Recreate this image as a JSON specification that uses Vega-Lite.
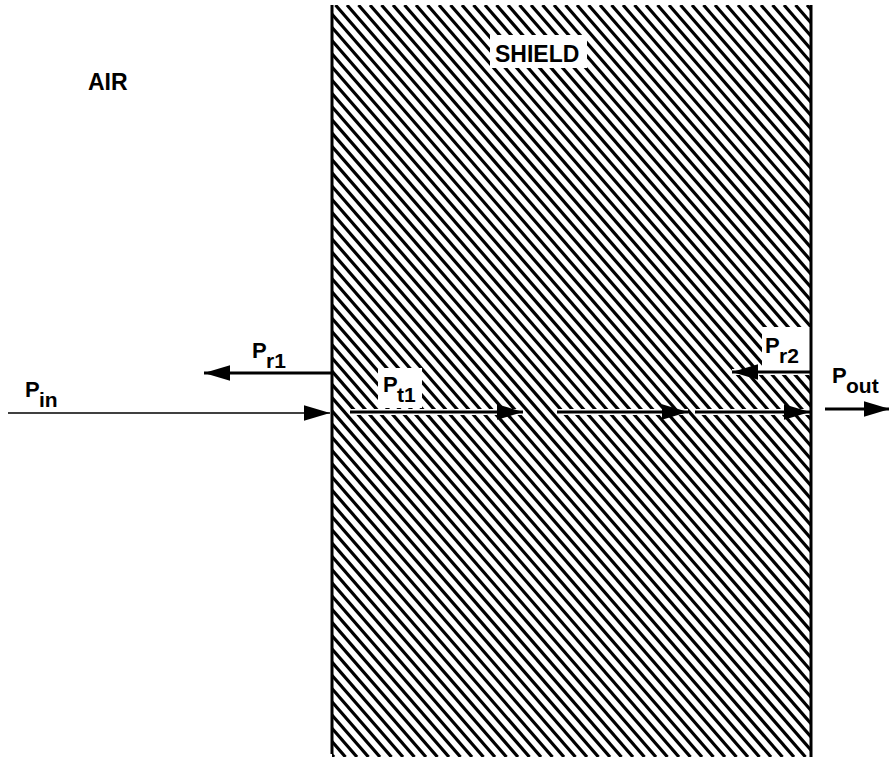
{
  "$schema": "https://vega.github.io/schema/vega-lite/v6.json",
  "width": 889,
  "height": 757,
  "autosize": {"type": "fit", "contains": "padding"},
  "padding": 0,
  "background": "white",
  "config": {"view": {"stroke": null}, "axis": {"disable": true}},
  "datasets": {
    "hatch": [
      {"top": -320, "bottom": 334}, {"top": -308.5, "bottom": 345.5}, {"top": -297, "bottom": 357}, {"top": -285.5, "bottom": 368.5},
      {"top": -274, "bottom": 380}, {"top": -262.5, "bottom": 391.5}, {"top": -251, "bottom": 403}, {"top": -239.5, "bottom": 414.5},
      {"top": -228, "bottom": 426}, {"top": -216.5, "bottom": 437.5}, {"top": -205, "bottom": 449}, {"top": -193.5, "bottom": 460.5},
      {"top": -182, "bottom": 472}, {"top": -170.5, "bottom": 483.5}, {"top": -159, "bottom": 495}, {"top": -147.5, "bottom": 506.5},
      {"top": -136, "bottom": 518}, {"top": -124.5, "bottom": 529.5}, {"top": -113, "bottom": 541}, {"top": -101.5, "bottom": 552.5},
      {"top": -90, "bottom": 564}, {"top": -78.5, "bottom": 575.5}, {"top": -67, "bottom": 587}, {"top": -55.5, "bottom": 598.5},
      {"top": -44, "bottom": 610}, {"top": -32.5, "bottom": 621.5}, {"top": -21, "bottom": 633}, {"top": -9.5, "bottom": 644.5},
      {"top": 2, "bottom": 656}, {"top": 13.5, "bottom": 667.5}, {"top": 25, "bottom": 679}, {"top": 36.5, "bottom": 690.5},
      {"top": 48, "bottom": 702}, {"top": 59.5, "bottom": 713.5}, {"top": 71, "bottom": 725}, {"top": 82.5, "bottom": 736.5},
      {"top": 94, "bottom": 748}, {"top": 105.5, "bottom": 759.5}, {"top": 117, "bottom": 771}, {"top": 128.5, "bottom": 782.5},
      {"top": 140, "bottom": 794}, {"top": 151.5, "bottom": 805.5}, {"top": 163, "bottom": 817}, {"top": 174.5, "bottom": 828.5},
      {"top": 186, "bottom": 840}, {"top": 197.5, "bottom": 851.5}, {"top": 209, "bottom": 863}, {"top": 220.5, "bottom": 874.5},
      {"top": 232, "bottom": 886}, {"top": 243.5, "bottom": 897.5}, {"top": 255, "bottom": 909}, {"top": 266.5, "bottom": 920.5},
      {"top": 278, "bottom": 932}, {"top": 289.5, "bottom": 943.5}, {"top": 301, "bottom": 955}, {"top": 312.5, "bottom": 966.5},
      {"top": 324, "bottom": 978}, {"top": 335.5, "bottom": 989.5}, {"top": 347, "bottom": 1001}, {"top": 358.5, "bottom": 1012.5},
      {"top": 370, "bottom": 1024}, {"top": 381.5, "bottom": 1035.5}, {"top": 393, "bottom": 1047}, {"top": 404.5, "bottom": 1058.5},
      {"top": 416, "bottom": 1070}, {"top": 427.5, "bottom": 1081.5}, {"top": 439, "bottom": 1093}, {"top": 450.5, "bottom": 1104.5},
      {"top": 462, "bottom": 1116}, {"top": 473.5, "bottom": 1127.5}, {"top": 485, "bottom": 1139}, {"top": 496.5, "bottom": 1150.5},
      {"top": 508, "bottom": 1162}, {"top": 519.5, "bottom": 1173.5}, {"top": 531, "bottom": 1185}, {"top": 542.5, "bottom": 1196.5},
      {"top": 554, "bottom": 1208}, {"top": 565.5, "bottom": 1219.5}, {"top": 577, "bottom": 1231}, {"top": 588.5, "bottom": 1242.5},
      {"top": 600, "bottom": 1254}, {"top": 611.5, "bottom": 1265.5}, {"top": 623, "bottom": 1277}, {"top": 634.5, "bottom": 1288.5},
      {"top": 646, "bottom": 1300}, {"top": 657.5, "bottom": 1311.5}, {"top": 669, "bottom": 1323}, {"top": 680.5, "bottom": 1334.5},
      {"top": 692, "bottom": 1346}, {"top": 703.5, "bottom": 1357.5}, {"top": 715, "bottom": 1369}, {"top": 726.5, "bottom": 1380.5},
      {"top": 738, "bottom": 1392}, {"top": 749.5, "bottom": 1403.5}, {"top": 761, "bottom": 1415}, {"top": 772.5, "bottom": 1426.5},
      {"top": 784, "bottom": 1438}, {"top": 795.5, "bottom": 1449.5}, {"top": 807, "bottom": 1461}
    ],
    "blank": [
      {"region": "air", "x": 0, "x2": 332, "y": 0, "y2": 757},
      {"region": "outside", "x": 811, "x2": 889, "y": 0, "y2": 757},
      {"region": "top", "x": 332, "x2": 811, "y": 0, "y2": 5},
      {"region": "SHIELD", "x": 490, "x2": 587, "y": 35, "y2": 68},
      {"region": "Pt1", "x": 378, "x2": 422, "y": 368, "y2": 408},
      {"region": "Pr2", "x": 762, "x2": 810, "y": 327, "y2": 370}
    ],
    "walls": [
      {"side": "left", "x": 332, "y": 5, "y2": 754},
      {"side": "right", "x": 811, "y": 5, "y2": 757}
    ],
    "arrows": [
      {"arrow": "Pin", "from": 8, "to": 330, "y": 413, "kind": "thin", "dir": "right"},
      {"arrow": "Pr1", "from": 332, "to": 204, "y": 373, "kind": "thick", "dir": "left"},
      {"arrow": "Pt1a", "from": 350, "to": 523, "y": 412, "kind": "thick", "dir": "right"},
      {"arrow": "Pt1b", "from": 557, "to": 688, "y": 412, "kind": "thick", "dir": "right"},
      {"arrow": "Pt1c", "from": 695, "to": 810, "y": 412, "kind": "thick", "dir": "right"},
      {"arrow": "Pr2", "from": 810, "to": 732, "y": 372, "kind": "thick", "dir": "left"},
      {"arrow": "Pout", "from": 825, "to": 890, "y": 409, "kind": "thick", "dir": "right"}
    ],
    "titles": [
      {"text": "AIR", "x": 88, "y": 90},
      {"text": "SHIELD", "x": 495, "y": 62}
    ],
    "powers": [
      {"main": "P", "sub": "in", "x": 25, "y": 397},
      {"main": "P", "sub": "r1", "x": 252, "y": 358},
      {"main": "P", "sub": "t1", "x": 383, "y": 392},
      {"main": "P", "sub": "r2", "x": 765, "y": 353},
      {"main": "P", "sub": "out", "x": 832, "y": 383}
    ]
  },
  "layer": [
    {
      "data": {"name": "hatch"},
      "mark": {"type": "rule", "clip": true, "color": "black", "strokeWidth": 3.2},
      "encoding": {
        "x": {"field": "top", "type": "quantitative", "scale": {"domain": [0, 889], "nice": false, "zero": false}},
        "x2": {"field": "bottom"},
        "y": {"datum": 5, "type": "quantitative", "scale": {"domain": [0, 757], "nice": false, "zero": false, "reverse": true}},
        "y2": {"datum": 757}
      }
    },
    {
      "data": {"name": "blank"},
      "mark": {"type": "rect", "color": "white", "clip": true},
      "encoding": {
        "x": {"field": "x", "type": "quantitative", "scale": {"domain": [0, 889], "nice": false, "zero": false}},
        "x2": {"field": "x2"},
        "y": {"field": "y", "type": "quantitative", "scale": {"domain": [0, 757], "nice": false, "zero": false, "reverse": true}},
        "y2": {"field": "y2"}
      }
    },
    {
      "data": {"name": "arrows"},
      "mark": {"type": "rule", "color": "white", "strokeWidth": 6, "clip": true},
      "encoding": {
        "x": {"field": "from", "type": "quantitative", "scale": {"domain": [0, 889], "nice": false, "zero": false}},
        "x2": {"field": "to"},
        "y": {"field": "y", "type": "quantitative", "scale": {"domain": [0, 757], "nice": false, "zero": false, "reverse": true}}
      }
    },
    {
      "data": {"name": "walls"},
      "mark": {"type": "rule", "color": "black", "strokeWidth": 3, "clip": true},
      "encoding": {
        "x": {"field": "x", "type": "quantitative", "scale": {"domain": [0, 889], "nice": false, "zero": false}},
        "y": {"field": "y", "type": "quantitative", "scale": {"domain": [0, 757], "nice": false, "zero": false, "reverse": true}},
        "y2": {"field": "y2"}
      }
    },
    {
      "data": {"name": "arrows"},
      "mark": {"type": "rule", "color": "black", "clip": true},
      "encoding": {
        "x": {"field": "from", "type": "quantitative", "scale": {"domain": [0, 889], "nice": false, "zero": false}},
        "x2": {"field": "to"},
        "y": {"field": "y", "type": "quantitative", "scale": {"domain": [0, 757], "nice": false, "zero": false, "reverse": true}},
        "strokeWidth": {"field": "kind", "type": "nominal", "scale": {"domain": ["thin", "thick"], "range": [1.6, 2.8]}, "legend": null}
      }
    },
    {
      "data": {"name": "arrows"},
      "mark": {"type": "point", "filled": true, "opacity": 1, "color": "black", "size": 676, "strokeWidth": 0, "clip": true},
      "encoding": {
        "x": {"field": "to", "type": "quantitative", "scale": {"domain": [0, 889], "nice": false, "zero": false}},
        "y": {"field": "y", "type": "quantitative", "scale": {"domain": [0, 757], "nice": false, "zero": false, "reverse": true}},
        "shape": {"field": "dir", "type": "nominal", "scale": {"domain": ["right", "left"], "range": ["M-2,-0.6L0,0L-2,0.6Z", "M2,-0.6L0,0L2,0.6Z"]}, "legend": null}
      }
    },
    {
      "data": {"name": "titles"},
      "mark": {"type": "text", "align": "left", "baseline": "alphabetic", "font": "Liberation Sans", "fontWeight": "bold", "fontSize": 23, "color": "black"},
      "encoding": {
        "x": {"field": "x", "type": "quantitative", "scale": {"domain": [0, 889], "nice": false, "zero": false}},
        "y": {"field": "y", "type": "quantitative", "scale": {"domain": [0, 757], "nice": false, "zero": false, "reverse": true}},
        "text": {"field": "text"}
      }
    },
    {
      "data": {"name": "powers"},
      "mark": {"type": "text", "align": "left", "baseline": "alphabetic", "font": "Liberation Sans", "fontWeight": "bold", "fontSize": 22, "color": "black"},
      "encoding": {
        "x": {"field": "x", "type": "quantitative", "scale": {"domain": [0, 889], "nice": false, "zero": false}},
        "y": {"field": "y", "type": "quantitative", "scale": {"domain": [0, 757], "nice": false, "zero": false, "reverse": true}},
        "text": {"field": "main"}
      }
    },
    {
      "data": {"name": "powers"},
      "mark": {"type": "text", "align": "left", "baseline": "alphabetic", "font": "Liberation Sans", "fontWeight": "bold", "fontSize": 21, "dx": 14, "dy": 10, "color": "black"},
      "encoding": {
        "x": {"field": "x", "type": "quantitative", "scale": {"domain": [0, 889], "nice": false, "zero": false}},
        "y": {"field": "y", "type": "quantitative", "scale": {"domain": [0, 757], "nice": false, "zero": false, "reverse": true}},
        "text": {"field": "sub"}
      }
    }
  ]
}
